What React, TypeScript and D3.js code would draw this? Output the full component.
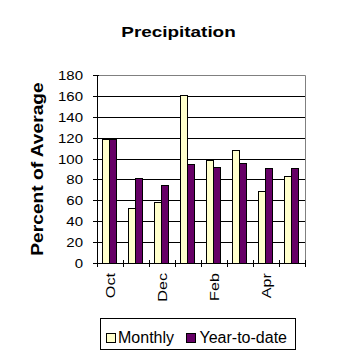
import React from 'react';
import * as d3 from 'd3';

const months = ['Oct', 'Nov', 'Dec', 'Jan', 'Feb', 'Mar', 'Apr', 'May'];
const monthly = [119, 53, 58, 161, 99, 108, 69, 83];
const ytd = [119, 81, 75, 95, 92, 96, 91, 91];
const seriesNames = ['Monthly', 'Year-to-date'];
const yTicks = [0, 20, 40, 60, 80, 100, 120, 140, 160, 180];
const xLabelMonths = ['Oct', 'Dec', 'Feb', 'Apr'];
const colors = ['#FFFFCC', '#660066'];

export default function App() {
  const W = 358, H = 358;
  const left = 97, right = 305, top = 75, bottom = 263;
  const x = d3.scaleBand<string>().domain(months).range([left, right]).padding(0);
  const bw = x.bandwidth();
  const sub = d3.scaleBand<string>().domain(seriesNames).range([0, bw]).paddingInner(0).paddingOuter(0.857).align(0.45);
  const y = d3.scaleLinear().domain([0, 180]).range([bottom, top]);
  const font = 'Liberation Sans, Arial, sans-serif';
  const series = [monthly, ytd];
  const legendX = [106.5, 186.5];
  const legendTextX = [118, 199.5];

  return (
    <svg width={W} height={H} style={{ position: 'absolute', left: 0, top: 0, background: '#fff' }}>
      <rect x={0} y={0} width={W} height={H} fill="#fff" />
      <text transform="translate(178.5,36.5) scale(1.22,1)" textAnchor="middle" fontFamily={font} fontWeight="bold" fontSize={15.5} fill="#000">Precipitation</text>
      <text transform={`translate(42.5,${(top + bottom) / 2}) rotate(-90) scale(1.2,1)`} textAnchor="middle" fontFamily={font} fontWeight="bold" fontSize={16} fill="#000">Percent of Average</text>
      {/* gridlines */}
      {yTicks.filter(t => t > 0 && t < 180).map(t => (
        <line key={'g' + t} x1={left} x2={right + 1} y1={Math.round(y(t)) + 0.5} y2={Math.round(y(t)) + 0.5} stroke="#000" strokeWidth={1} />
      ))}
      {/* plot border top/right */}
      <polyline points={`${left},${top + 0.5} ${right + 0.5},${top + 0.5} ${right + 0.5},${bottom}`} fill="none" stroke="#808080" strokeWidth={1} />
      {/* bars */}
      {series.map((vals, si) => vals.map((v, i) => {
        const x0 = Math.round((x(months[i]) as number) + (sub(seriesNames[si]) as number)) + 0.5;
        const w = Math.round(sub.bandwidth());
        const y0 = Math.round(y(v)) + 0.5;
        return <rect key={si + '-' + i} x={x0} y={y0} width={w} height={Math.round(y(0)) - y0 + 0.5} fill={colors[si]} stroke="#000" strokeWidth={1} shapeRendering="crispEdges" />;
      }))}
      {/* y axis */}
      <line x1={left + 0.5} x2={left + 0.5} y1={top} y2={bottom + 1} stroke="#000" />
      {yTicks.map(t => (
        <g key={'y' + t}>
          <line x1={left - 4} x2={left + 2} y1={Math.round(y(t)) + 0.5} y2={Math.round(y(t)) + 0.5} stroke="#000" />
          <text transform={`translate(83,${Math.round(y(t)) + 5}) scale(1.2,1)`} textAnchor="end" fontFamily={font} fontSize={12.5} fill="#000">{t}</text>
        </g>
      ))}
      {/* x axis */}
      <line x1={left} x2={right + 1} y1={bottom + 0.5} y2={bottom + 0.5} stroke="#000" />
      {[...months.map(m => x(m) as number), right].map((px, i) => (
        <line key={'xt' + i} x1={Math.round(px) + 0.5} x2={Math.round(px) + 0.5} y1={bottom - 3} y2={bottom + 4} stroke="#000" />
      ))}
      {xLabelMonths.map(m => (
        <text key={'xl' + m} transform={`translate(${(x(m) as number) + bw / 2 + 5},273) rotate(-90) scale(1.2,1)`} textAnchor="end" fontFamily={font} fontSize={13.5} fill="#000">{m}</text>
      ))}
      {/* legend */}
      <rect x={100.5} y={318.5} width={195} height={31} fill="#fff" stroke="#000" />
      {seriesNames.map((n, i) => (
        <g key={'lg' + n}>
          <rect x={legendX[i]} y={333.5} width={9} height={9} fill={colors[i]} stroke="#000" />
          <text x={legendTextX[i]} y={343} fontFamily={font} fontSize={16} fill="#000">{n}</text>
        </g>
      ))}
    </svg>
  );
}
